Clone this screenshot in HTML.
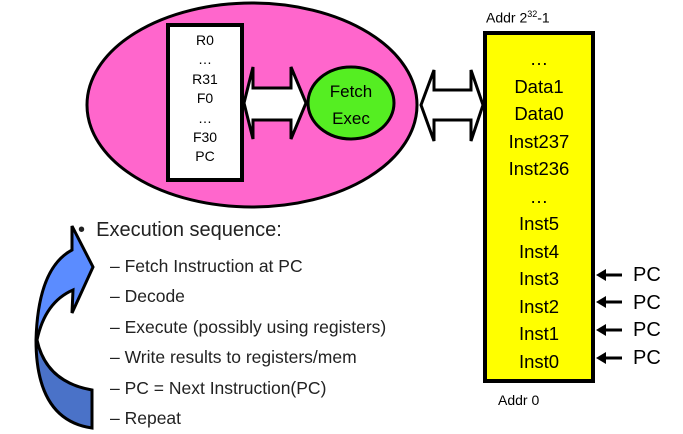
<!DOCTYPE html>
<html><head><meta charset="utf-8"><style>
html,body{margin:0;padding:0;background:#fff;}
body{width:683px;height:434px;overflow:hidden;position:relative;font-family:"Liberation Sans",sans-serif;}
.t{position:absolute;white-space:nowrap;}
</style></head><body>
<svg width="683" height="434" style="position:absolute;left:0;top:0">
<defs><linearGradient id="g" x1="0" y1="0" x2="0" y2="1" gradientUnits="objectBoundingBox">
<stop offset="0" stop-color="#5b8cff"/><stop offset="0.55" stop-color="#5b8cff"/><stop offset="0.55" stop-color="#4a72c8"/><stop offset="1" stop-color="#4a72c8"/></linearGradient></defs>
<ellipse cx="252" cy="105" rx="165" ry="102" fill="#ff66cc" stroke="#000" stroke-width="3"/>
<rect x="168" y="25" width="74" height="155" fill="#fff" stroke="#000" stroke-width="4"/>
<ellipse cx="351" cy="103" rx="43" ry="36" fill="#55ee22" stroke="#000" stroke-width="3"/>
<path d="M244,103 L253,67 L253,88 L291,88 L291,67 L306,103 L291,139 L291,120 L253,120 L253,139 Z" fill="#fff" stroke="#000" stroke-width="3" stroke-linejoin="miter"/>
<path d="M421,105 L434,70 L434,90 L471,90 L471,70 L483,105 L471,141 L471,120 L434,120 L434,141 Z" fill="#fff" stroke="#000" stroke-width="3"/>
<rect x="485" y="33" width="108" height="348" fill="#ffff00" stroke="#000" stroke-width="4"/>
<g stroke="#000" stroke-width="3" fill="#000">
<line x1="604" y1="275" x2="622" y2="275"/><path d="M596,275 L606,269 L606,281 Z" stroke="none"/>
<line x1="604" y1="302" x2="622" y2="302"/><path d="M596,302 L606,296 L606,308 Z" stroke="none"/>
<line x1="604" y1="330" x2="622" y2="330"/><path d="M596,330 L606,324 L606,336 Z" stroke="none"/>
<line x1="604" y1="358" x2="622" y2="358"/><path d="M596,358 L606,352 L606,364 Z" stroke="none"/>
</g>
<path d="M72,226 L93,267 L72,313 L73,290 Q45,302 37,340 Q46,382 92,390 L92,428 Q36,420 36,340 Q38,268 72,250 Z" fill="url(#g)" stroke="#000" stroke-width="3" stroke-linejoin="miter"/>
</svg>
<div class="t" style="left:168px;top:31px;width:74px;text-align:center;font-size:14px;line-height:19.4px;">R0<br>…<br>R31<br>F0<br>…<br>F30<br>PC</div>
<div class="t" style="left:308px;top:78px;width:86px;text-align:center;font-size:17px;line-height:27px;">Fetch<br>Exec</div>
<div class="t" style="left:485px;top:45px;width:108px;text-align:center;font-size:18.5px;line-height:27.5px;">…<br>Data1<br>Data0<br>Inst237<br>Inst236<br>…<br>Inst5<br>Inst4<br>Inst3<br>Inst2<br>Inst1<br>Inst0</div>
<div class="t" style="left:486px;top:9px;font-size:14px;">Addr 2<sup style="font-size:9px">32</sup>-1</div>
<div class="t" style="left:498px;top:392px;font-size:14px;">Addr 0</div>
<div class="t" style="left:633px;top:262px;font-size:20px;line-height:27.5px;">PC<br>PC<br>PC<br>PC</div>
<div class="t" style="left:78px;top:219px;font-size:20px;color:#222;">•&nbsp;&nbsp;Execution sequence:</div>
<div class="t" style="left:110px;top:251px;font-size:17.5px;line-height:30.4px;color:#222;">– Fetch Instruction at PC<br>– Decode<br>– Execute (possibly using registers)<br>– Write results to registers/mem<br>– PC = Next Instruction(PC)<br>– Repeat</div>
</body></html>
